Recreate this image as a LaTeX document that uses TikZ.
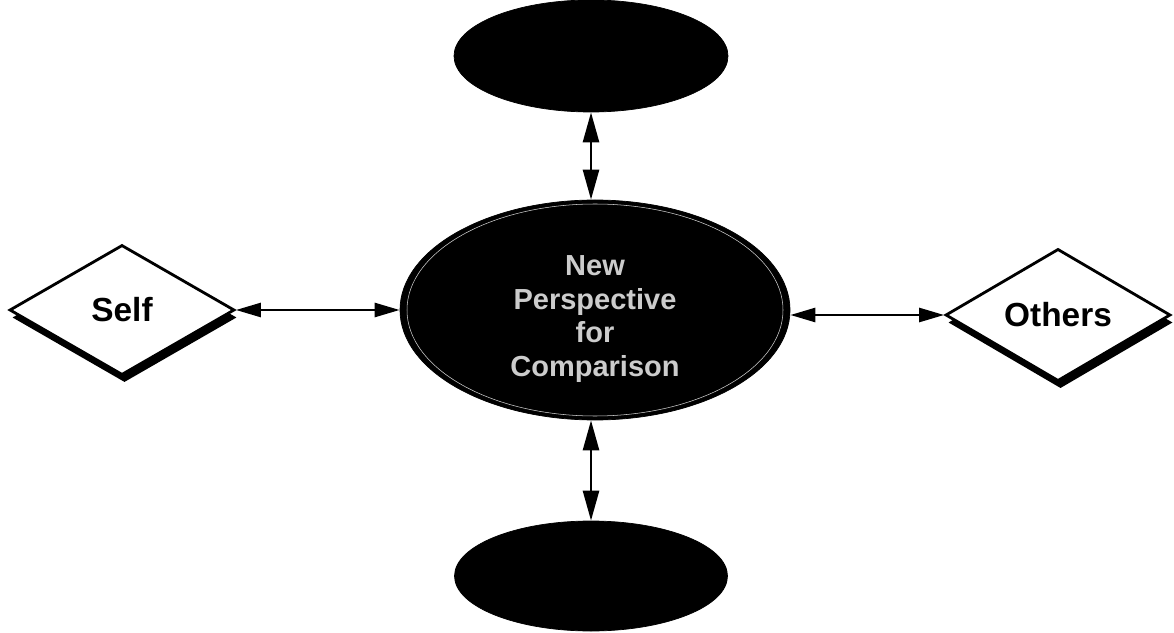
\documentclass[tikz,border=0pt]{standalone}
\usepackage{fontspec}
\setmainfont{Liberation Sans}
\usetikzlibrary{shapes.geometric,shadows,arrows.meta}

\begin{document}
\begin{tikzpicture}
    % 定义样式
    \tikzstyle{blob}=[ellipse, draw=black, fill=black, inner sep=0pt]
    \tikzstyle{corner}=[diamond, draw=black, line width=1.6pt, fill=white, inner sep=0pt,
        minimum width=4.5cm, minimum height=2.6cm, font=\bfseries\fontsize{19}{22}\selectfont,
        drop shadow={shadow xshift=0.05cm, shadow yshift=-0.15cm, fill=black, opacity=1}]
    \tikzstyle{link}=[{Triangle[length=0.6cm,width=0.32cm]}-{Triangle[length=0.6cm,width=0.32cm]}, line width=1.5pt]
    \tikzstyle{sidelink}=[{Triangle[length=0.5cm,width=0.28cm]}-{Triangle[length=0.5cm,width=0.28cm]}, line width=1.5pt]

    % 画布大小
    \useasboundingbox (0,0) rectangle (23.48,12.64);

    % 1. 中间的大椭圆
    \node[blob, minimum width=7.8cm, minimum height=4.4cm] (persp) at (11.9,6.44) {};
    \draw[gray!35, line width=0.3pt] (persp.center) ellipse (3.76cm and 2.12cm);
    \node[align=center, text=white!80!black, font=\bfseries\fontsize{16.5}{19}\selectfont]
          (persptext) at ([yshift=-0.18cm]persp.center) {New\\Perspective\\for\\Comparison};

    % 2. 上下两个椭圆
    \node[blob, minimum width=5.48cm, minimum height=2.24cm] (upper) at (11.82,11.52) {};
    \node[blob, minimum width=5.46cm, minimum height=2.2cm] (lower) at (11.82,1.12) {};

    % 3. 左右两个菱形
    \node[corner] (self) at (2.44,6.44) {Self};
    \node[corner] (others) at (21.16,6.34) {Others};

    % 4. 双向箭头
    \draw[link] (upper) -- (upper |- persp.north);
    \draw[link] (lower) -- (lower |- persp.south);
    \draw[sidelink] (self.east) -- (persp.west |- self.east);
    \draw[sidelink] (others.west) -- (persp.east |- others.west);

\end{tikzpicture}
\end{document}
